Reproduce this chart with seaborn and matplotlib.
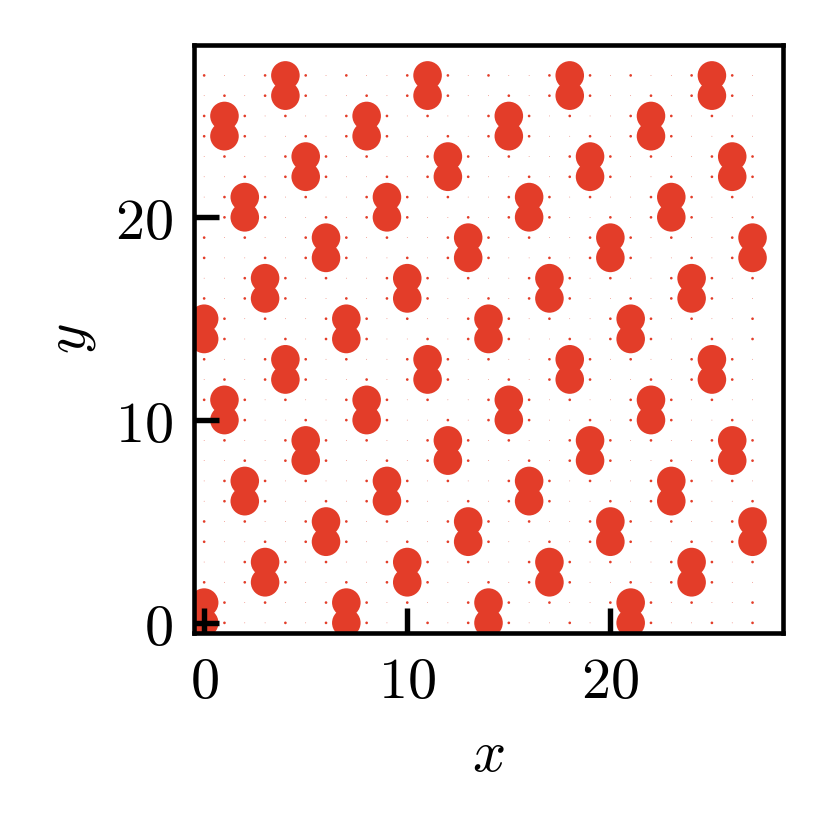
import numpy as np
import pandas as pd
import matplotlib
matplotlib.use("Agg")
import matplotlib.pyplot as plt
import seaborn as sns

# Grid 28 x 28 (x, y = 0..27)
n_grid = 28
# x positions of the large dots for each pair of rows (y = 2k, 2k+1)
big_x_by_pair = [
    [0, 7, 14, 21],   # y = 0, 1
    [3, 10, 17, 24],  # y = 2, 3
    [6, 13, 20, 27],  # y = 4, 5
    [2, 9, 16, 23],   # y = 6, 7
    [5, 12, 19, 26],  # y = 8, 9
    [1, 8, 15, 22],   # y = 10, 11
    [4, 11, 18, 25],  # y = 12, 13
    [0, 7, 14, 21],   # y = 14, 15
    [3, 10, 17, 24],  # y = 16, 17
    [6, 13, 20, 27],  # y = 18, 19
    [2, 9, 16, 23],   # y = 20, 21
    [5, 12, 19, 26],  # y = 22, 23
    [1, 8, 15, 22],   # y = 24, 25
    [4, 11, 18, 25],  # y = 26, 27
]
big_value = 1.0
neighbor_value = 0.008
background_value = 0.0

xticks = [0, 10, 20]
yticks = [0, 10, 20]

# Build the value grid
vals = np.full((n_grid, n_grid), background_value)  # vals[y, x]
big = np.zeros((n_grid, n_grid), dtype=bool)
for k, xs in enumerate(big_x_by_pair):
    for x in xs:
        big[2 * k, x] = True
        big[2 * k + 1, x] = True
for y in range(n_grid):
    for x in range(n_grid):
        if big[y, x]:
            for dy, dx in [(1, 0), (-1, 0), (0, 1), (0, -1)]:
                yy, xx = (y + dy) % n_grid, (x + dx) % n_grid
                if not big[yy, xx]:
                    vals[yy, xx] = neighbor_value
vals[big] = big_value

ys, xs = np.mgrid[0:n_grid, 0:n_grid]
df = pd.DataFrame({"x": xs.ravel(), "y": ys.ravel(), "v": vals.ravel()})

sns.set_style("ticks")
plt.rcParams["mathtext.fontset"] = "cm"
plt.rcParams["font.family"] = ["DejaVu Serif"]
plt.rcParams["text.color"] = "black"
plt.rcParams["axes.labelcolor"] = "black"

fig = plt.figure(figsize=(829 / 300, 821 / 300), dpi=300)
ax = fig.add_axes([194 / 829, 1 - 633 / 821, (783 - 194) / 829, (633 - 45) / 821])

color = "#E33D29"
sns.scatterplot(data=df, x="x", y="y", size="v", sizes=(0.03, 47), size_norm=(0, 1),
                color=color, linewidth=0, legend=False, ax=ax)

ax.set_axisbelow(False)
ax.set_xlim(-0.5, 28.5)
ax.set_ylim(-0.5, 28.5)
ax.set_xticks(xticks)
ax.set_yticks(yticks)
ax.set_xticklabels([f"${t}$" for t in xticks])
ax.set_yticklabels([f"${t}$" for t in yticks])
ax.tick_params(direction="in", length=6, width=1.3, labelsize=14, pad=5,
               top=False, right=False, colors="black", labelcolor="black")
for s in ax.spines.values():
    s.set_linewidth(1.1)
    s.set_color("black")
    s.set_zorder(3)
ax.set_xlabel("$x$", fontsize=14, labelpad=4, color="black")
ax.set_ylabel("$y$", fontsize=14, labelpad=4, color="black")

fig.savefig("out.png", dpi=300)
